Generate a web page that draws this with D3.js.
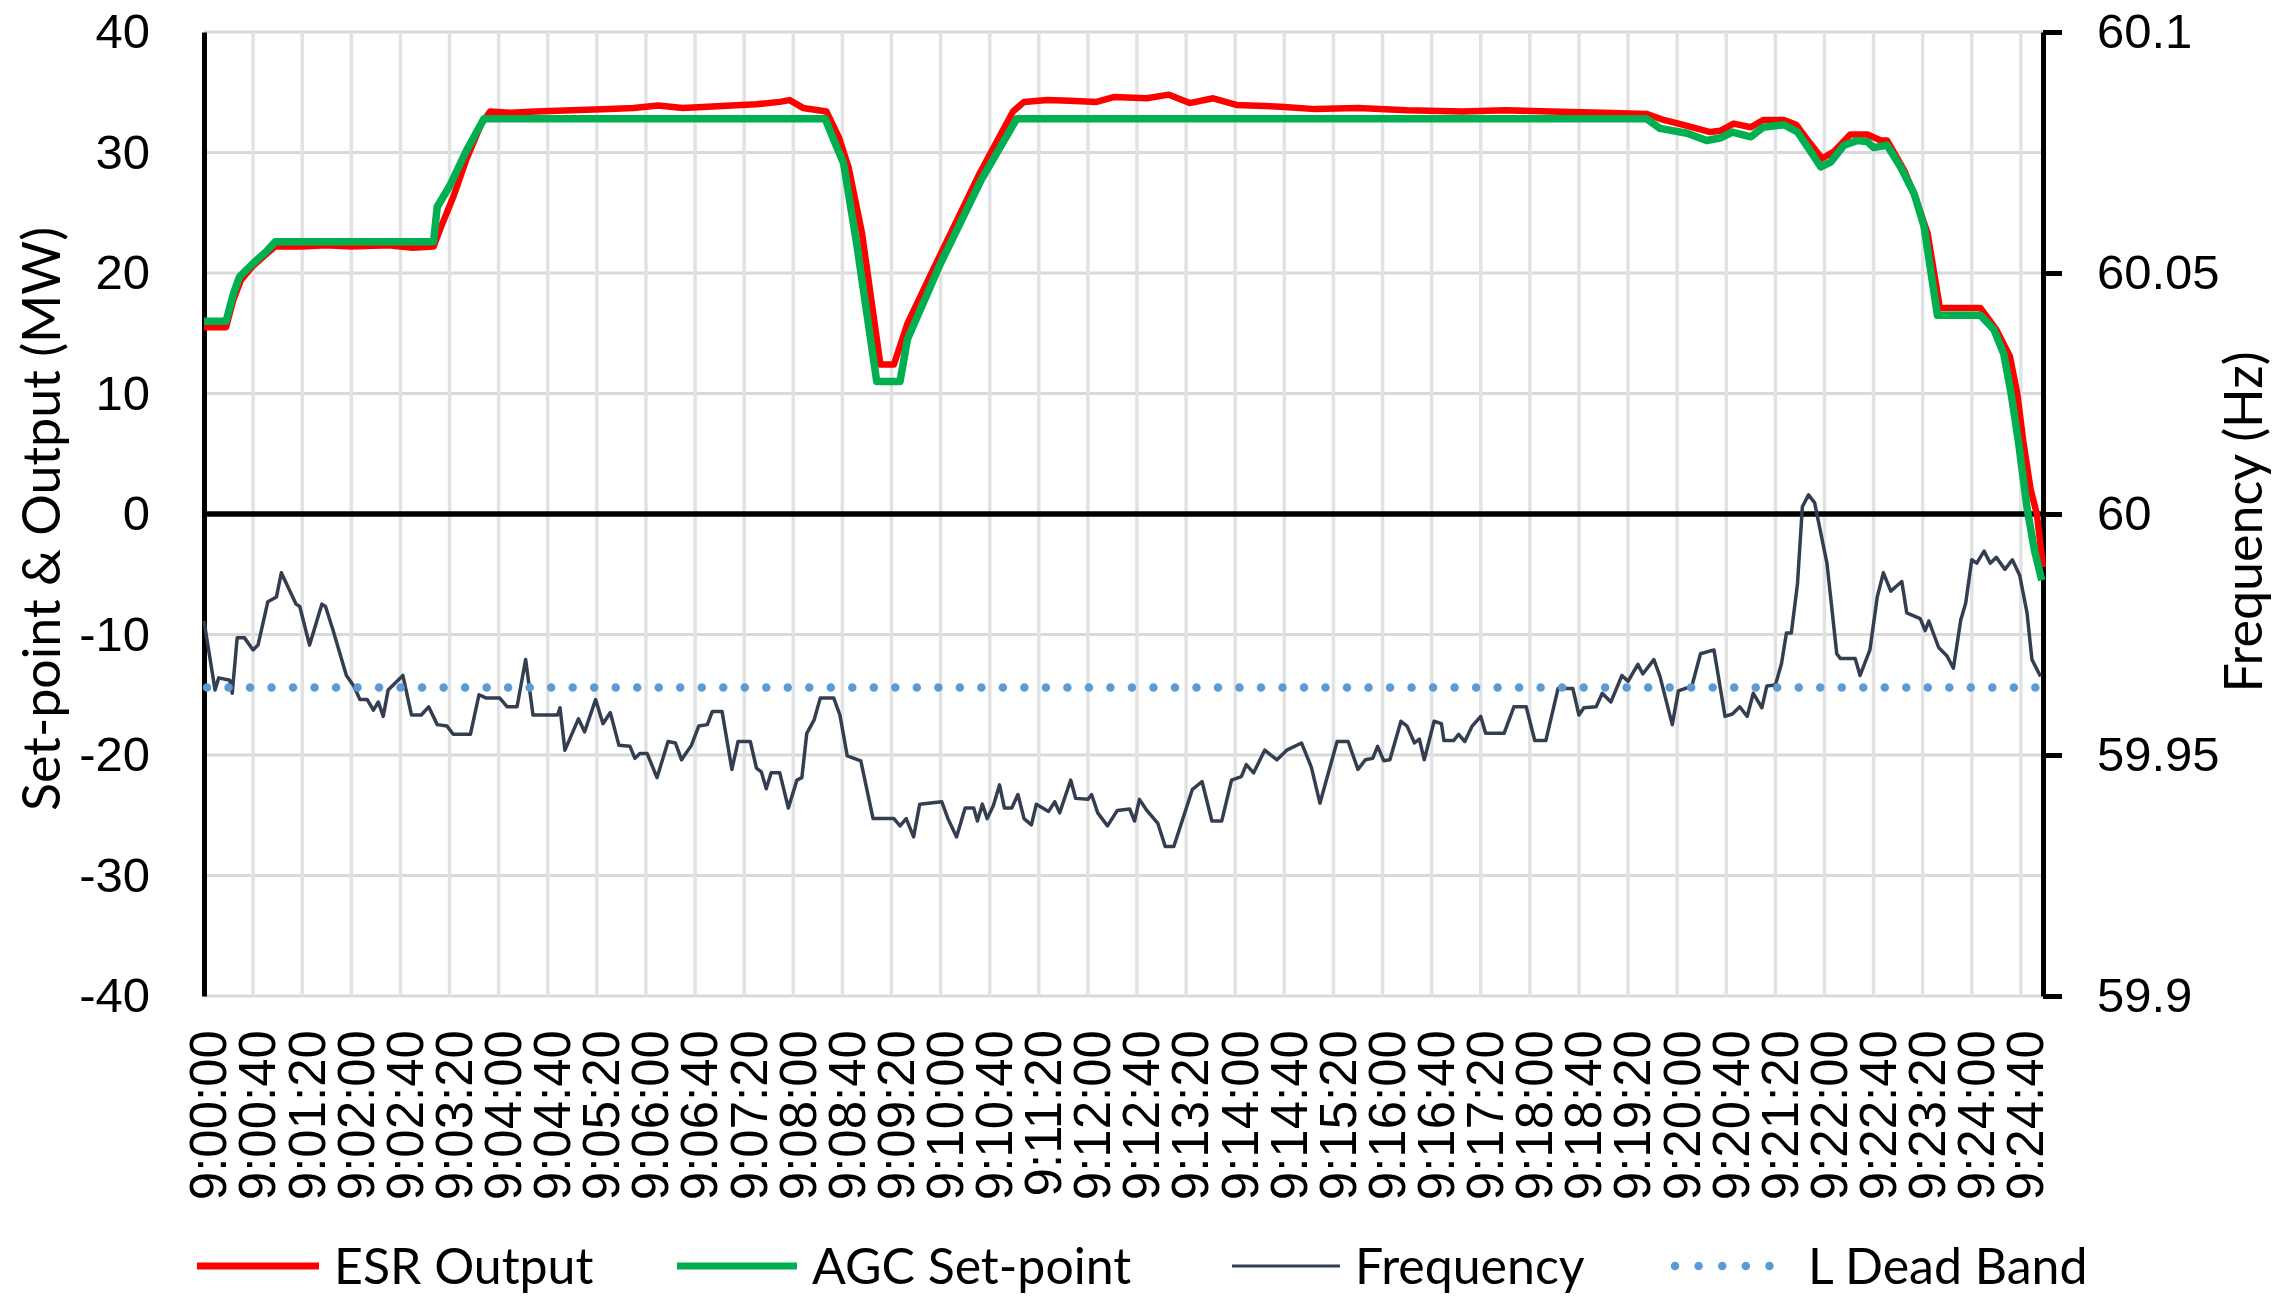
<!DOCTYPE html>
<html>
 <head>
   <meta charset="UTF-8">
   <title>ESR output, AGC set-point and frequency</title>
   <script src="https://d3js.org/d3.v7.min.js"></script>
<style>
html, body{
  margin: 0;
  padding: 0;
  background: #fff;
}
svg{
  display: block;
  font-family: Lato, "Open Sans", sans-serif;
}
</style>
 </head>
<body>
<div id="chart"></div>

<script>
// time is seconds after 9:00:00, power in MW, frequency in Hz
var esrPoints = [
  [0,15.5],[18,15.5],[24,17.8],[30,19.4],[40,20.6],[51,21.6],[58,22.2],[80,22.2],[100,22.3],[120,22.2],
  [150,22.3],[170,22.1],[187,22.2],[193,23.8],[203,26.3],[214,29.5],[226,32.4],[233,33.4],[250,33.3],[270,33.4],
  [300,33.5],[330,33.6],[350,33.7],[370,33.9],[390,33.7],[410,33.8],[430,33.9],[450,34.0],[469,34.2],[477,34.35],
  [488,33.7],[507,33.4],[517,31.3],[525,28.8],[536,23.3],[551,12.4],[562,12.4],[573,15.8],[594,20.3],[632,28.3],
  [659,33.4],[668,34.2],[687,34.35],[705,34.3],[727,34.2],[741,34.6],[768,34.5],[786,34.8],[803,34.1],[822,34.5],
  [841,33.95],[877,33.8],[905,33.6],[940,33.7],[980,33.5],[1025,33.4],[1060,33.5],[1097,33.4],[1140,33.3],[1175,33.2],
  [1189,32.7],[1205,32.3],[1227,31.7],[1235,31.8],[1246,32.4],[1260,32.1],[1270,32.7],[1287,32.7],[1297,32.3],[1308,30.8],
  [1318,29.5],[1328,30.1],[1341,31.5],[1355,31.5],[1366,31.0],[1371,31.0],[1385,28.5],[1395,26.0],[1404,23.3],[1414,17.1],
  [1447,17.1],[1460,15.3],[1471,13.1],[1477,10.0],[1482,6.0],[1488,2.0],[1493,0.0],[1498,-4.4]
];

var agcPoints = [
  [0,16.0],[18,16.0],[24,18.3],[29,19.7],[40,20.8],[51,21.8],[58,22.6],[187,22.6],[190,25.5],[200,27.2],
  [214,30.2],[228,32.8],[506,32.8],[514,30.8],[521,29.1],[532,22.2],[548,11.0],[567,11.0],[573,14.5],[600,20.8],
  [633,27.7],[662,32.8],[1175,32.8],[1186,32.0],[1208,31.6],[1224,31.0],[1235,31.2],[1245,31.7],[1260,31.3],[1270,32.1],
  [1287,32.3],[1298,31.7],[1308,30.2],[1317,28.8],[1325,29.2],[1336,30.6],[1347,31.0],[1355,30.9],[1360,30.4],[1371,30.6],
  [1382,28.8],[1393,26.6],[1401,23.9],[1412,16.5],[1447,16.5],[1458,15.3],[1466,13.3],[1472,10.0],[1478,6.0],[1485,0.5],
  [1491,-3.0],[1497,-5.5]
];

var freqPoints = [
  [0,59.9778],[9,59.9635],[12,59.9660],[21,59.9655],[23,59.9628],[27,59.9743],[33,59.9743],[40,59.9718],[44,59.9728],[52,59.9818],
  [59,59.9828],[63,59.9878],[75,59.9813],[78,59.9808],[86,59.9728],[96,59.9813],[99,59.9808],[105,59.9760],[116,59.9665],[122,59.9643],
  [127,59.9615],[133,59.9615],[138,59.9593],[142,59.9610],[146,59.9580],[150,59.9635],[162,59.9665],[169,59.9583],[177,59.9583],[183,59.9600],
  [190,59.9563],[198,59.9560],[203,59.9543],[217,59.9543],[224,59.9625],[230,59.9618],[241,59.9618],[247,59.9600],[255,59.9600],[262,59.9698],
  [268,59.9583],[288,59.9583],[290,59.9598],[294,59.9510],[305,59.9575],[310,59.9548],[319,59.9615],[325,59.9565],[331,59.9588],[338,59.9520],
  [347,59.9518],[351,59.9493],[355,59.9503],[361,59.9503],[369,59.9453],[378,59.9528],[384,59.9525],[389,59.9490],[397,59.9520],[403,59.9560],
  [410,59.9563],[414,59.9590],[422,59.9590],[425,59.9545],[430,59.9470],[435,59.9528],[445,59.9528],[450,59.9473],[454,59.9465],[458,59.9430],
  [462,59.9463],[469,59.9463],[476,59.9390],[483,59.9448],[487,59.9453],[491,59.9545],[497,59.9573],[502,59.9618],[513,59.9618],[518,59.9583],
  [524,59.9498],[535,59.9488],[545,59.9368],[562,59.9368],[567,59.9353],[572,59.9368],[578,59.9330],[583,59.9398],[601,59.9403],[606,59.9368],
  [613,59.9330],[620,59.9390],[627,59.9390],[630,59.9363],[634,59.9398],[638,59.9368],[643,59.9395],[648,59.9438],[652,59.9390],[658,59.9390],
  [663,59.9418],[668,59.9368],[674,59.9355],[678,59.9398],[688,59.9383],[693,59.9403],[697,59.9380],[706,59.9448],[710,59.9410],[720,59.9408],
  [723,59.9418],[728,59.9380],[736,59.9353],[744,59.9385],[754,59.9388],[758,59.9363],[762,59.9408],[768,59.9385],[777,59.9358],[783,59.9310],
  [790,59.9310],[798,59.9373],[805,59.9428],[813,59.9445],[821,59.9363],[829,59.9363],[837,59.9448],[845,59.9455],[849,59.9480],[855,59.9463],
  [864,59.9510],[874,59.9490],[882,59.9510],[894,59.9525],[902,59.9475],[909,59.9400],[923,59.9528],[932,59.9528],[940,59.9470],[946,59.9490],
  [952,59.9493],[956,59.9518],[961,59.9488],[966,59.9490],[975,59.9570],[980,59.9560],[986,59.9525],[990,59.9533],[994,59.9490],[1002,59.9570],
  [1008,59.9565],[1010,59.9530],[1018,59.9530],[1022,59.9543],[1027,59.9528],[1033,59.9560],[1040,59.9580],[1044,59.9545],[1059,59.9545],[1067,59.9600],
  [1077,59.9600],[1084,59.9530],[1093,59.9530],[1103,59.9638],[1115,59.9638],[1120,59.9583],[1124,59.9598],[1134,59.9600],[1139,59.9628],[1146,59.9610],
  [1155,59.9665],[1160,59.9653],[1168,59.9688],[1172,59.9668],[1181,59.9698],[1186,59.9663],[1196,59.9563],[1201,59.9633],[1212,59.9643],[1219,59.9710],
  [1230,59.9718],[1239,59.9580],[1245,59.9585],[1251,59.9600],[1257,59.9580],[1262,59.9628],[1269,59.9598],[1273,59.9643],[1280,59.9645],[1285,59.9690],
  [1289,59.9753],[1293,59.9753],[1298,59.9855],[1302,60.0015],[1307,60.0040],[1312,60.0023],[1322,59.9898],[1330,59.9710],[1333,59.9700],[1345,59.9700],
  [1349,59.9665],[1357,59.9718],[1363,59.9828],[1368,59.9878],[1374,59.9840],[1383,59.9860],[1387,59.9795],[1398,59.9783],[1402,59.9758],[1405,59.9778],
  [1413,59.9723],[1420,59.9705],[1425,59.9680],[1431,59.9780],[1435,59.9815],[1440,59.9905],[1444,59.9898],[1450,59.9923],[1455,59.9898],[1460,59.9910],
  [1467,59.9885],[1473,59.9905],[1479,59.9873],[1485,59.9795],[1489,59.9698],[1496,59.9663]
];

// lower dead band limit (Hz)
var deadBandHz = 59.964;

var leftTicks = [-40, -30, -20, -10, 0, 10, 20, 30, 40];
var rightTicks = [59.9, 59.95, 60, 60.05, 60.1];
var timeTicks = d3.range(0, 1481, 40);   // a label every 40 s, 9:00:00 .. 9:24:40
var legendLabels = ["ESR Output", "AGC Set-point", "Frequency", "L Dead Band"];

// chart size and plot box (note: "top" is a reserved window property, so plotTop etc.)
var W = 2292, H = 1296;
var plotLeft = 204, plotRight = 2043, plotTop = 32, plotBottom = 996;

var esrColor = "#ff0000", agcColor = "#00b050", freqColor = "#333f50", bandColor = "#5b9bd5";

var x = d3.scaleLinear().domain([0, 1498]).range([plotLeft, plotRight]);
var yL = d3.scaleLinear().domain([-40, 40]).range([plotBottom, plotTop]);
var yR = d3.scaleLinear().domain([59.9, 60.1]).range([plotBottom, plotTop]);

function pad(n){ return (n < 10 ? "0" : "") + n; }
function timeLabel(t){ return "9:" + pad(Math.floor(t / 60)) + ":" + pad(t % 60); }

var svg = d3.select("#chart")
  .append("svg")
  .attr("width", W)
  .attr("height", H);

svg.append("rect").attr("width", W).attr("height", H).attr("fill", "#fff");

//Gridlines
svg.append("g").selectAll("line")
  .data(leftTicks)
  .enter().append("line")
  .attr("x1", plotLeft).attr("x2", plotRight)
  .attr("y1", function(d){ return yL(d); })
  .attr("y2", function(d){ return yL(d); })
  .attr("stroke", "#d9d9d9")
  .attr("stroke-width", 3);

svg.append("g").selectAll("line")
  .data(timeTicks.slice(1))
  .enter().append("line")
  .attr("x1", function(d){ return x(d); })
  .attr("x2", function(d){ return x(d); })
  .attr("y1", plotTop).attr("y2", plotBottom)
  .attr("stroke", "#e2e2e2")
  .attr("stroke-width", 3.5);

//Left axis (MW)
var gLeft = svg.append("g")
  .attr("transform", "translate(" + plotLeft + ",0)")
  .call(d3.axisLeft(yL).tickValues(leftTicks).tickSize(0).tickPadding(54)
        .tickFormat(function(d){ return String(d); }));
gLeft.select(".domain").attr("stroke", "#000").attr("stroke-width", 5);
gLeft.selectAll("text").attr("font-size", 49).attr("fill", "#000").attr("font-family", null);

//Right axis (Hz)
var gRight = svg.append("g")
  .attr("transform", "translate(" + plotRight + ",0)")
  .call(d3.axisRight(yR).tickValues(rightTicks).tickSize(19).tickSizeOuter(0).tickPadding(35)
        .tickFormat(function(d){ return String(d); }));
gRight.select(".domain").attr("stroke", "#000").attr("stroke-width", 5);
gRight.selectAll(".tick line").attr("stroke", "#000").attr("stroke-width", 5);
gRight.selectAll("text").attr("font-size", 49).attr("fill", "#000").attr("font-family", null);

//Time axis labels under the plot; the black zero line is drawn separately
var gBottom = svg.append("g")
  .attr("transform", "translate(0," + plotBottom + ")")
  .call(d3.axisBottom(x).tickValues(timeTicks).tickSize(0).tickFormat(timeLabel));
gBottom.select(".domain").remove();
gBottom.selectAll("text")
  .attr("transform", "rotate(-90)")
  .attr("text-anchor", "end")
  .attr("x", -34)
  .attr("y", 4)
  .attr("dy", "0.35em")
  .attr("font-size", 51)
  .attr("fill", "#000")
  .attr("font-family", null);

//zero line
svg.append("line")
  .attr("x1", plotLeft).attr("x2", plotRight)
  .attr("y1", yL(0)).attr("y2", yL(0))
  .attr("stroke", "#000")
  .attr("stroke-width", 5.5);

//Axis titles
svg.append("text")
  .attr("transform", "translate(42," + ((plotTop + plotBottom) / 2 + 5) + ") rotate(-90)")
  .attr("text-anchor", "middle")
  .attr("dy", "0.35em")
  .attr("font-size", 52)
  .text("Set-point & Output (MW)");

svg.append("text")
  .attr("transform", "translate(2244," + ((plotTop + plotBottom) / 2 + 8) + ") rotate(-90)")
  .attr("text-anchor", "middle")
  .attr("dy", "0.35em")
  .attr("font-size", 52)
  .text("Frequency (Hz)");

//Series
var lineMW = d3.line()
  .x(function(d){ return x(d[0]); })
  .y(function(d){ return yL(d[1]); });

var lineHz = d3.line()
  .x(function(d){ return x(d[0]); })
  .y(function(d){ return yR(d[1]); });

svg.append("path")
  .datum(esrPoints)
  .attr("d", lineMW)
  .attr("fill", "none")
  .attr("stroke", esrColor)
  .attr("stroke-width", 6.5)
  .attr("stroke-linejoin", "round");

svg.append("path")
  .datum(agcPoints)
  .attr("d", lineMW)
  .attr("fill", "none")
  .attr("stroke", agcColor)
  .attr("stroke-width", 7.5)
  .attr("stroke-linejoin", "round");

svg.append("path")
  .datum(freqPoints)
  .attr("d", lineHz)
  .attr("fill", "none")
  .attr("stroke", freqColor)
  .attr("stroke-width", 3.5)
  .attr("stroke-linejoin", "round");

svg.append("line")
  .attr("x1", x(0) + 3).attr("x2", plotRight)
  .attr("y1", yR(deadBandHz)).attr("y2", yR(deadBandHz))
  .attr("stroke", bandColor)
  .attr("stroke-width", 8.5)
  .attr("stroke-linecap", "round")
  .attr("stroke-dasharray", "0.01 21.5");

//Legend
var legendX = [197, 677, 1232, 1675];
var legendLen = [122, 120, 108, 118];
var legendY = 1266;
var legendStyle = [
  {color: esrColor, width: 7, dash: null, cap: "butt"},
  {color: agcColor, width: 7, dash: null, cap: "butt"},
  {color: freqColor, width: 3, dash: null, cap: "butt"},
  {color: bandColor, width: 8.5, dash: "0.01 23.6", cap: "round"}
];

var legend = svg.append("g").selectAll("g")
  .data(legendLabels)
  .enter().append("g");

legend.append("line")
  .attr("x1", function(d, i){ return legendX[i]; })
  .attr("x2", function(d, i){ return legendX[i] + legendLen[i]; })
  .attr("y1", legendY).attr("y2", legendY)
  .attr("stroke", function(d, i){ return legendStyle[i].color; })
  .attr("stroke-width", function(d, i){ return legendStyle[i].width; })
  .attr("stroke-linecap", function(d, i){ return legendStyle[i].cap; })
  .attr("stroke-dasharray", function(d, i){ return legendStyle[i].dash; });

legend.append("text")
  .attr("x", function(d, i){ return legendX[i] + legendLen[i] + 15; })
  .attr("y", legendY)
  .attr("dy", "0.35em")
  .attr("font-size", 50)
  .text(function(d){ return d; });
</script>
</body>
</html>
